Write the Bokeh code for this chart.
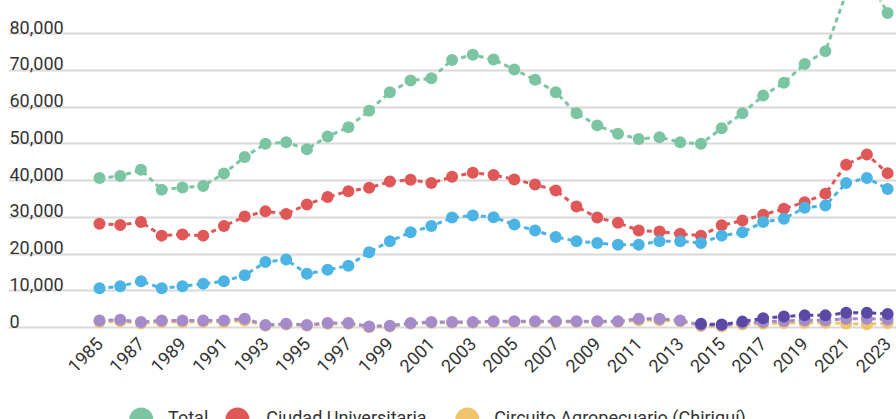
import math
from bokeh.plotting import figure
from bokeh.layouts import column
from bokeh.models import FixedTicker, Grid, Range1d, ColumnDataSource
from bokeh.core.properties import value
from bokeh.embed import file_html
from bokeh.resources import INLINE

nan = float("nan")
years = list(range(1985, 2024))

total = [40700, 41200, 42900, 37500, 38100, 38500, 41900, 46400, 50000, 50400,
         48500, 52000, 54500, 59000, 64000, 67200, 67800, 72800, 74200, 72900,
         70200, 67400, 64000, 58300, 55000, 52700, 51300, 51800, 50400, 50000,
         54200, 58300, 63100, 66600, 71700, 75200, 90900, 95500, 85600]
ciudad = [28200, 27900, 28700, 25000, 25300, 25000, 27600, 30200, 31600, 30900,
          33500, 35500, 37100, 38000, 39700, 40200, 39300, 41000, 42100, 41500,
          40300, 38900, 37300, 32900, 29900, 28500, 26400, 26100, 25500, 25000,
          27800, 29100, 30700, 32300, 34100, 36400, 44300, 47100, 42000]
blue = [10700, 11200, 12600, 10700, 11200, 11900, 12600, 14200, 17800, 18500,
        14600, 15700, 16800, 20500, 23500, 25900, 27600, 29900, 30500, 30000,
        28000, 26400, 24600, 23500, 23000, 22500, 22500, 23500, 23500, 23000,
        25000, 25900, 28700, 29600, 32600, 33200, 39300, 40700, 37700]
chiriqui = [1500, 1700, 1100, 1500, 1500, 1500, 1500, 1900, 500, 800,
            500, 1000, 1000, 100, 300, 1000, 1300, 1300, 1300, 1500,
            1500, 1500, 1500, 1500, 1500, 1500, 2000, 2000, 1700, 400,
            300, 800, 1000, 1200, 1300, 1300, 1100, 900, 1200]
light_purple = [1900, 2100, 1500, 1900, 1900, 1900, 1900, 2400, 700, 1000,
                700, 1200, 1200, 300, 500, 1200, 1500, 1500, 1500, 1700,
                1700, 1700, 1700, 1700, 1700, 1700, 2400, 2400, 1900, 700,
                600, 1200, 1500, 1800, 2000, 2000, 2400, 2400, 2200]
dark_purple = [nan] * 29 + [1000, 800, 1600, 2500, 3000, 3300, 3300, 4000, 4000, 3700]

y_ticks = [0, 10000, 20000, 30000, 40000, 50000, 60000, 70000, 80000]
y_tick_labels = ["0", "10,000", "20,000", "30,000", "40,000", "50,000", "60,000", "70,000", "80,000"]
x_ticks = list(range(1985, 2024, 2))

names = ["Total", "Ciudad Universitaria", "Circuito Agropecuario (Chiriquí)"]
colors = {"total": "#7cc5a3", "ciudad": "#e05757", "chiriqui": "#efc46b",
          "blue": "#4cb4e4", "lp": "#a48bcb", "dp": "#5b4aa5"}

FONT = "Roboto"
W = 896
H_MAIN, H_LEG = 395, 24
left = 8
frame_top, zero_px, frame_bottom = 0, 327, 333
frame_w = W - left
frame_h = frame_bottom - frame_top
px_per_year = 20.74
x0 = 1985 - (99 - left) / px_per_year
x1 = x0 + frame_w / px_per_year
px_per_unit = 36.75 / 10000
y_top = zero_px / px_per_unit
y_bot = -(frame_bottom - zero_px) / px_per_unit

p = figure(width=W, height=H_MAIN, output_backend="svg", toolbar_location=None,
           x_range=Range1d(x0, x1), y_range=Range1d(y_bot, y_top),
           y_axis_location=None, min_border_left=left, min_border_right=0,
           min_border_top=0, min_border_bottom=H_MAIN - frame_bottom)
p.outline_line_color = None
p.xgrid.visible = False
p.add_layout(Grid(dimension=1, ticker=FixedTicker(ticks=y_ticks),
                  grid_line_color="#d9d9d9", grid_line_width=2))

ax = p.xaxis[0]
ax.ticker = FixedTicker(ticks=x_ticks)
ax.axis_line_color = None
ax.major_tick_line_color = None
ax.minor_tick_line_color = None
ax.major_label_orientation = math.pi / 4
ax.major_label_text_font = FONT
ax.major_label_text_font_size = "18px"
ax.major_label_text_color = "#333333"
ax.major_label_standoff = 1

src = ColumnDataSource(dict(year=years, total=total, ciudad=ciudad, blue=blue,
                            chiriqui=chiriqui, lp=light_purple, dp=dark_purple))

for key in ["total", "ciudad", "chiriqui", "blue", "lp", "dp"]:
    p.line("year", key, source=src, line_color=colors[key], line_width=3, line_dash="5 4")
    p.scatter("year", key, source=src, size=12, marker="circle",
              fill_color=colors[key], line_color=None)

lab_src = ColumnDataSource(dict(x=[x0] * len(y_ticks), y=y_ticks, t=y_tick_labels))
p.text("x", "y", text="t", source=lab_src, text_font=value(FONT), text_font_size="18px",
       text_color="#333333", text_baseline="bottom", text_align="left", x_offset=1)

# legend strip (cut off by the bottom edge, as in the reference)
leg = figure(width=W, height=H_LEG, output_backend="svg", toolbar_location=None,
             x_range=Range1d(0, W), y_range=Range1d(0, H_LEG),
             x_axis_location=None, y_axis_location=None, min_border=0)
leg.outline_line_color = None
leg.grid.visible = False
leg_src = ColumnDataSource(dict(cx=[134, 231, 463], tx=[161, 260, 490],
                                cy=[0, 0, 0], ty=[2, 2, 2], name=names,
                                color=[colors["total"], colors["ciudad"], colors["chiriqui"]]))
leg.scatter("cx", "cy", source=leg_src, size=24, marker="circle", fill_color="color", line_color=None)
leg.text("tx", "ty", text="name", source=leg_src, text_font=value(FONT), text_font_size="18px",
         text_color="#333333", text_baseline="middle", text_align="left")

open("out.html", "w").write(file_html(column(p, leg, spacing=0), INLINE))
